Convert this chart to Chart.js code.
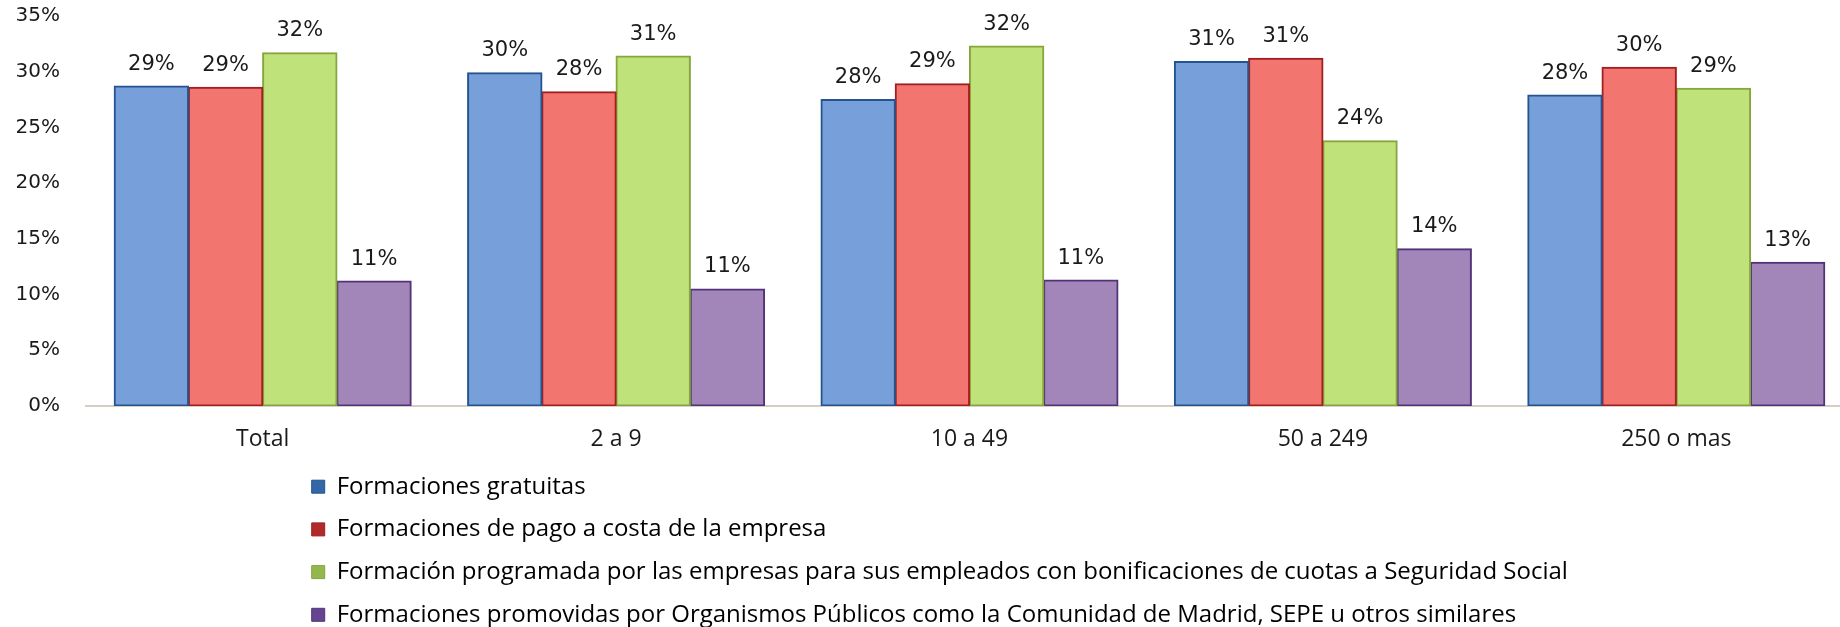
<!DOCTYPE html>
<html lang="es">
<head>
<meta charset="utf-8">
<title>Formaciones por tamaño de empresa</title>
<script src="https://cdn.jsdelivr.net/npm/chart.js@4.4.1/dist/chart.umd.min.js"></script>
<style>
  html,body{margin:0;padding:0;background:#fff;overflow:hidden;}
  #wrap{width:1853px;height:627px;}
</style>
</head>
<body>
<div id="wrap"><canvas id="chart" width="1853" height="627"></canvas></div>
<script>
// ==== DATA ====
const categories = ["Total", "2 a 9", "10 a 49", "50 a 249", "250 o mas"];
const seriesNames = [
  "Formaciones gratuitas",
  "Formaciones de pago a costa de la empresa",
  "Formación programada por las empresas para sus empleados con bonificaciones de cuotas a Seguridad Social",
  "Formaciones promovidas por Organismos Públicos como la Comunidad de Madrid, SEPE u otros similares"
];
const gratuitas   = [28.7, 29.9, 27.5, 30.9, 27.9];
const pagoEmpresa = [28.6, 28.2, 28.9, 31.2, 30.4];
const bonificadas = [31.7, 31.4, 32.3, 23.8, 28.5];
const organismos  = [11.2, 10.5, 11.3, 14.1, 12.9];
const yTicks = [0, 5, 10, 15, 20, 25, 30, 35];

// ==== STYLE ====
const fills   = ["#779fd9", "#f2756f", "#c0e27b", "#a286ba"];
const borders = ["#24548f", "#a11f1f", "#86a63c", "#523379"];
const boxes   = ["#3467a8", "#b02a2a", "#93b84e", "#654590"];
const sans = "'Open Sans', 'Noto Sans', sans-serif";
const wide = "'DejaVu Sans', Verdana, sans-serif";

const pct = v => Math.round(v) + "%";

// value labels above every bar
const barLabels = {
  id: "barLabels",
  afterDatasetsDraw(chart){
    const ctx = chart.ctx;
    ctx.save();
    ctx.font = `21px ${wide}`;
    ctx.fillStyle = "#1a1a1a";
    ctx.textAlign = "center";
    ctx.textBaseline = "middle";
    chart.data.datasets.forEach((ds, i) => {
      chart.getDatasetMeta(i).data.forEach((bar, j) => {
        ctx.fillText(pct(ds.data[j]), bar.x, bar.y - 22);
      });
    });
    ctx.restore();
  }
};

// legend sits under the category labels, one entry per row
const legendBelow = {
  id: "legendBelow",
  beforeDraw(chart){
    const lg = chart.legend;
    if(!lg) return;
    lg.left = 293; lg.right = 1850;
    lg.top = 456; lg.bottom = 760;   // tall enough to keep a single column
    lg.width = lg.right - lg.left; lg.height = lg.bottom - lg.top;
  }
};

const series = [gratuitas, pagoEmpresa, bonificadas, organismos];

new Chart(document.getElementById("chart"), {
  type: "bar",
  data: {
    labels: categories,
    datasets: series.map((data, i) => ({
      label: seriesNames[i],
      data,
      backgroundColor: fills[i],
      borderColor: borders[i],
      borderWidth: 2,
      borderSkipped: false,
      inflateAmount: 0.6,
      barPercentage: 1,
      categoryPercentage: 0.84
    }))
  },
  options: {
    responsive: false,
    animation: false,
    layout: { padding: { top: 16, right: 0, bottom: 181, left: 0 } },
    scales: {
      x: {
        grid: { display: false, drawTicks: false },
        border: { display: true, color: "#d6cec4", width: 2 },
        ticks: { font: { family: sans, size: 23 }, color: "#1a1a1a", padding: 20 },
        afterFit: s => { s.height = 40; }
      },
      y: {
        min: 0, max: 35,
        afterBuildTicks: s => { s.ticks = yTicks.map(v => ({ value: v })); },
        grid: { display: false, drawTicks: false },
        border: { display: false },
        ticks: { font: { family: wide, size: 20 }, color: "#1a1a1a", padding: 26, callback: v => v + "%" },
        // fixed axis width; the tick padding should not push the plot down
        afterFit: s => { s.width = 86; s.paddingTop = 0; s.paddingBottom = 0; }
      }
    },
    plugins: {
      tooltip: { enabled: false },
      legend: {
        position: "chartArea",
        align: "start",
        labels: {
          font: { family: sans, size: 24 },
          color: "#1a1a1a",
          boxWidth: 13,
          boxHeight: 13,
          padding: 18.7,
          generateLabels: chart => chart.data.datasets.map((ds, i) => ({
            text: ds.label,
            fillStyle: boxes[i],
            strokeStyle: borders[i],
            lineWidth: 1,
            datasetIndex: i
          }))
        }
      }
    }
  },
  plugins: [barLabels, legendBelow]
});
</script>
</body>
</html>
